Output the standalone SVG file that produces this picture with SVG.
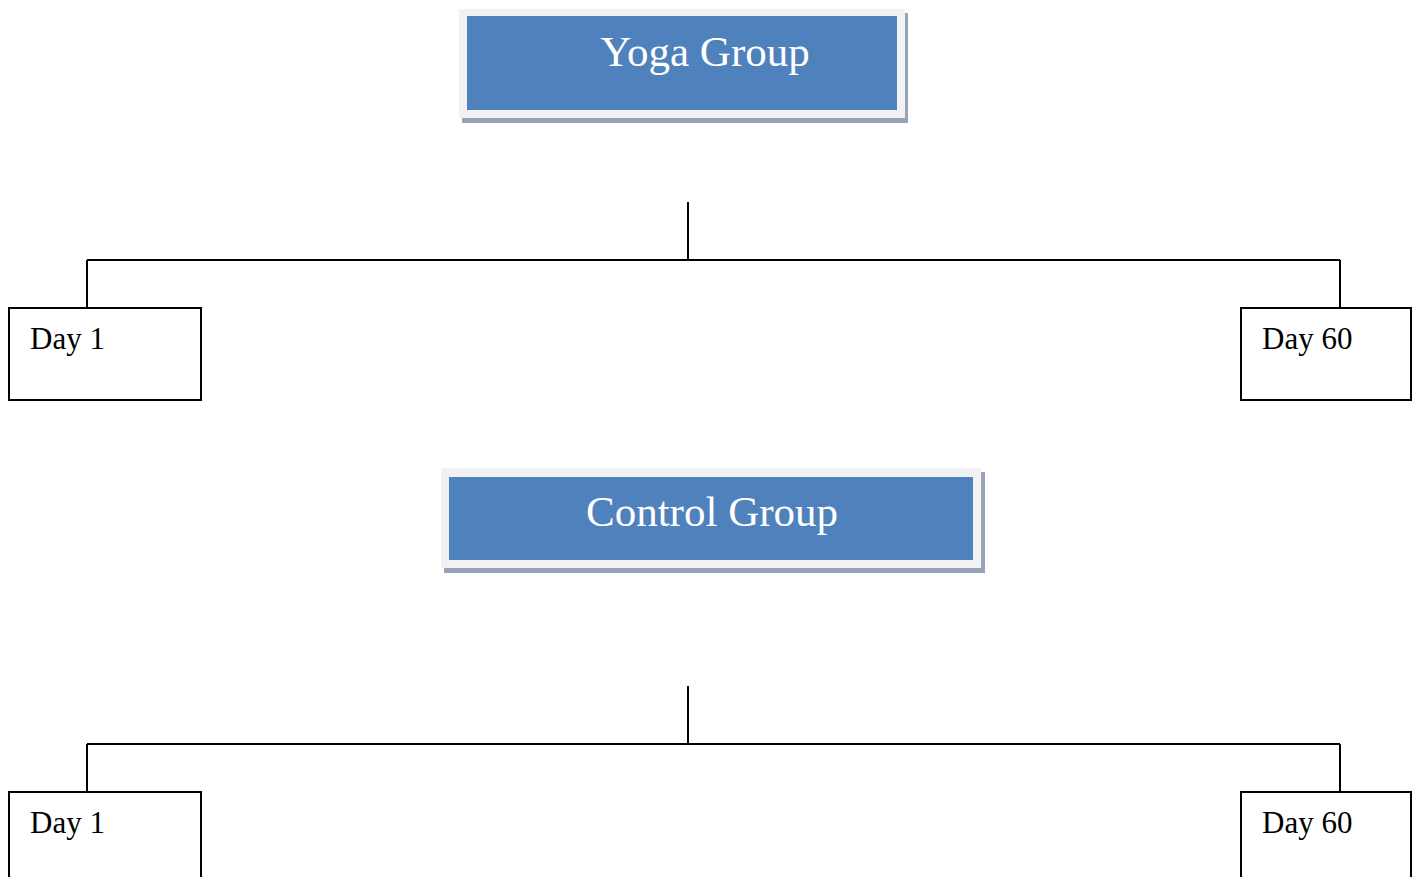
<svg xmlns="http://www.w3.org/2000/svg" width="1419" height="877" viewBox="0 0 1419 877">
<style>
.frame{fill:#f2f2f2}
.shadow{fill:#97a4b8}
.blue{fill:#4f81bd}
.title{font-family:"Liberation Serif","Times New Roman",serif;font-size:43px;fill:#ffffff;text-anchor:middle}
.box{fill:#ffffff;stroke:#000000;stroke-width:2}
.lbl{font-family:"Liberation Serif","Times New Roman",serif;font-size:31px;fill:#000000}
.conn{stroke:#000000;stroke-width:2;fill:none}
</style>
<rect width="1419" height="877" fill="#ffffff"/>
<g id="yoga">
<rect class="shadow" x="462" y="13" width="446" height="110"/>
<rect class="frame" x="459" y="9" width="446" height="109"/>
<rect class="blue" x="467" y="16" width="430" height="94"/>
<text class="title" x="705" y="66">Yoga Group</text>
</g>
<g id="yoga-day1">
<rect class="box" x="9" y="308" width="192" height="92"/>
<text class="lbl" x="30" y="349">Day 1</text>
</g>
<g id="yoga-day60">
<rect class="box" x="1241" y="308" width="170" height="92"/>
<text class="lbl" x="1262" y="349">Day 60</text>
</g>
<g id="control">
<rect class="shadow" x="444" y="472" width="541" height="101"/>
<rect class="frame" x="441" y="468" width="540" height="100"/>
<rect class="blue" x="449" y="477" width="524" height="83"/>
<text class="title" x="712" y="526">Control Group</text>
</g>
<g id="control-day1">
<rect class="box" x="9" y="792" width="192" height="100"/>
<text class="lbl" x="30" y="833">Day 1</text>
</g>
<g id="control-day60">
<rect class="box" x="1241" y="792" width="170" height="100"/>
<text class="lbl" x="1262" y="833">Day 60</text>
</g>
<g id="connectors">
<path class="conn" d="M688 202 V260 M87 260 H1340 M87 260 V308 M1340 260 V308"/>
<path class="conn" d="M688 686 V744 M87 744 H1340 M87 744 V792 M1340 744 V792"/>
</g>
</svg>
